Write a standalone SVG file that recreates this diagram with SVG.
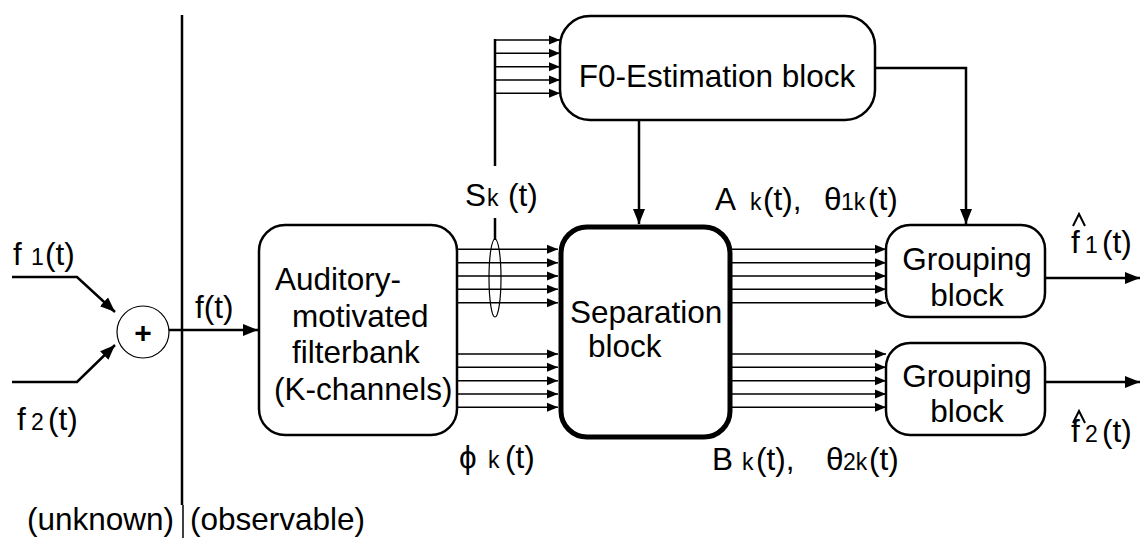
<svg xmlns="http://www.w3.org/2000/svg" width="1140" height="538" viewBox="0 0 1140 538">
<defs>
<style>
text{font-family:"Liberation Sans",Arial,sans-serif;font-size:31.5px;fill:#000}
.sub{font-size:23px}
.box{fill:#fff;stroke:#000;stroke-width:2.5}
.ln{fill:none;stroke:#000;stroke-width:2.5}
.th{fill:none;stroke:#000;stroke-width:1.5}
.hat{fill:none;stroke:#000;stroke-width:2}
</style>
<marker id="ab" markerUnits="userSpaceOnUse" markerWidth="16" markerHeight="12" refX="15" refY="6" orient="auto"><path d="M0,0 L15,6 L0,12 Z" fill="#000"/></marker>
<marker id="as" markerUnits="userSpaceOnUse" markerWidth="12" markerHeight="10" refX="11" refY="5" orient="auto"><path d="M0,0.5 L11,5 L0,9.5 Z" fill="#000"/></marker>
</defs>
<rect width="1140" height="538" fill="#fff"/>

<g id="connectors">
<line class="ln" x1="182" y1="15" x2="182" y2="505"/>
<line x1="183" y1="505" x2="183" y2="538" stroke="#000" stroke-width="1.5"/>
<polyline class="ln" points="12,277 77,277 115,312" marker-end="url(#ab)"/>
<polyline class="ln" points="12,382 77,382 115,345" marker-end="url(#ab)"/>
<line class="ln" x1="169" y1="330" x2="258" y2="330" marker-end="url(#ab)"/>
<g class="th">
<line x1="457" y1="249.3" x2="558" y2="249.3" marker-end="url(#as)"/>
<line x1="457" y1="262.7" x2="558" y2="262.7" marker-end="url(#as)"/>
<line x1="457" y1="276" x2="558" y2="276" marker-end="url(#as)"/>
<line x1="457" y1="289.3" x2="558" y2="289.3" marker-end="url(#as)"/>
<line x1="457" y1="302.7" x2="558" y2="302.7" marker-end="url(#as)"/>
<line x1="457" y1="354" x2="558" y2="354" marker-end="url(#as)"/>
<line x1="457" y1="367.3" x2="558" y2="367.3" marker-end="url(#as)"/>
<line x1="457" y1="380.7" x2="558" y2="380.7" marker-end="url(#as)"/>
<line x1="457" y1="394" x2="558" y2="394" marker-end="url(#as)"/>
<line x1="457" y1="407.3" x2="558" y2="407.3" marker-end="url(#as)"/>
<line x1="732" y1="249.3" x2="886" y2="249.3" marker-end="url(#as)"/>
<line x1="732" y1="262.7" x2="886" y2="262.7" marker-end="url(#as)"/>
<line x1="732" y1="276" x2="886" y2="276" marker-end="url(#as)"/>
<line x1="732" y1="289.3" x2="886" y2="289.3" marker-end="url(#as)"/>
<line x1="732" y1="302.7" x2="886" y2="302.7" marker-end="url(#as)"/>
<line x1="732" y1="354" x2="886" y2="354" marker-end="url(#as)"/>
<line x1="732" y1="367.3" x2="886" y2="367.3" marker-end="url(#as)"/>
<line x1="732" y1="380.7" x2="886" y2="380.7" marker-end="url(#as)"/>
<line x1="732" y1="394" x2="886" y2="394" marker-end="url(#as)"/>
<line x1="732" y1="407.3" x2="886" y2="407.3" marker-end="url(#as)"/>
<line x1="495" y1="40" x2="560" y2="40" marker-end="url(#as)"/>
<line x1="495" y1="53.3" x2="560" y2="53.3" marker-end="url(#as)"/>
<line x1="495" y1="66.7" x2="560" y2="66.7" marker-end="url(#as)"/>
<line x1="495" y1="80" x2="560" y2="80" marker-end="url(#as)"/>
<line x1="495" y1="93.3" x2="560" y2="93.3" marker-end="url(#as)"/>
</g>
<line class="ln" x1="495" y1="39" x2="495" y2="166"/>
<line class="ln" x1="495" y1="218" x2="495" y2="240"/>
<ellipse cx="495" cy="278" rx="6" ry="39" fill="none" stroke="#000" stroke-width="1.2"/>
<line class="ln" x1="639" y1="120" x2="639" y2="224" marker-end="url(#ab)"/>
<polyline class="ln" points="875,68 966,68 966,224" marker-end="url(#ab)"/>
<line class="ln" x1="1045" y1="278" x2="1140" y2="278" marker-end="url(#ab)"/>
<line class="ln" x1="1045" y1="382" x2="1140" y2="382" marker-end="url(#ab)"/>
</g>

<g id="sum">
<circle cx="143" cy="332" r="26" fill="#fff" stroke="#000" stroke-width="1.2"/>
<text x="143" y="343" text-anchor="middle" style="font-weight:bold;font-size:30px">+</text>
</g>

<g id="filterbank">
<rect class="box" x="259" y="225" width="198" height="210" rx="26"/>
<text x="275" y="290">Auditory-</text>
<text x="292" y="327">motivated</text>
<text x="292" y="363">filterbank</text>
<text x="274" y="400">(K-channels)</text>
</g>

<g id="f0">
<rect class="box" x="560" y="16" width="315" height="104" rx="30"/>
<text x="717" y="87" text-anchor="middle">F0-Estimation block</text>
</g>

<g id="separation">
<rect x="561" y="227" width="169" height="210" rx="26" fill="#fff" stroke="#000" stroke-width="5"/>
<text x="570" y="323">Separation</text>
<text x="588" y="357">block</text>
</g>

<g id="grouping1">
<rect class="box" x="886" y="225" width="159" height="92" rx="24"/>
<text x="967" y="270" text-anchor="middle">Grouping</text>
<text x="967" y="306" text-anchor="middle">block</text>
</g>

<g id="grouping2">
<rect class="box" x="886" y="343" width="159" height="92" rx="24"/>
<text x="967" y="387" text-anchor="middle">Grouping</text>
<text x="967" y="422" text-anchor="middle">block</text>
</g>

<g id="labels">
<text x="13" y="265">f<tspan class="sub" x="31">1</tspan><tspan x="45">(t)</tspan></text>
<text x="17" y="430">f<tspan class="sub" x="31">2</tspan><tspan x="48">(t)</tspan></text>
<text x="195" y="318">f(t)</text>
<text x="465" y="206">S<tspan class="sub" x="487">k</tspan><tspan x="508">(t)</tspan></text>
<text x="459" y="468">ϕ<tspan class="sub" x="488">k</tspan><tspan x="505">(t)</tspan></text>
<text x="715" y="210">A<tspan class="sub" x="750">k</tspan><tspan x="763">(t),</tspan><tspan x="824">θ</tspan><tspan class="sub" x="841">1k</tspan><tspan x="868">(t)</tspan></text>
<text x="712" y="470">B<tspan class="sub" x="742">k</tspan><tspan x="756">(t),</tspan><tspan x="826">θ</tspan><tspan class="sub" x="843">2k</tspan><tspan x="869">(t)</tspan></text>
<text x="1071" y="253">f<tspan class="sub" x="1085">1</tspan><tspan x="1102">(t)</tspan></text>
<text x="1071" y="442">f<tspan class="sub" x="1085">2</tspan><tspan x="1102">(t)</tspan></text>
<text x="27" y="530">(unknown)</text>
<text x="190" y="530">(observable)</text>
</g>
<g id="hats">
<polyline class="hat" points="1073,226 1079,214 1085,226"/>
<polyline class="hat" points="1073,423 1079,411 1085,423"/>
</g>
</svg>
